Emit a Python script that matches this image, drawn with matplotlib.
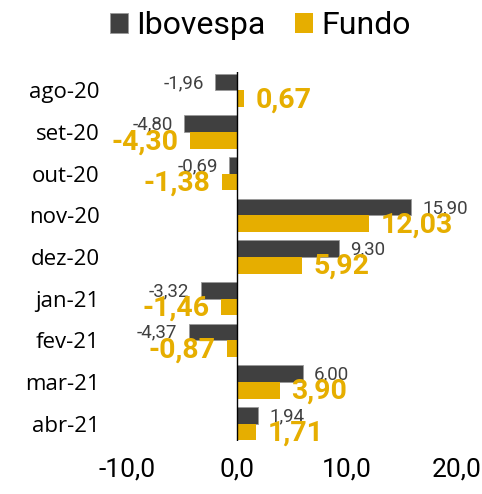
import numpy as np
import matplotlib.pyplot as plt

plt.rcParams['font.family'] = ['Roboto', 'DejaVu Sans']

meses = ['ago-20', 'set-20', 'out-20', 'nov-20', 'dez-20', 'jan-21', 'fev-21', 'mar-21', 'abr-21']
ibovespa = [-1.96, -4.80, -0.69, 15.90, 9.30, -3.32, -4.37, 6.00, 1.94]
fundo = [0.67, -4.30, -1.38, 12.03, 5.92, -1.46, -0.87, 3.90, 1.71]

cor_ibov = '#404040'
cor_fundo = '#E6AE00'

fig = plt.figure(figsize=(4.82, 4.94), dpi=100)
ax = fig.add_axes([0.230, 0.107, 0.762, 0.747])

y = np.arange(len(meses))
h = 0.4
ax.barh(y - h / 2, ibovespa, height=h, color=cor_ibov, edgecolor='#9a9a9a', linewidth=0.6, label='Ibovespa')
ax.barh(y + h / 2, fundo, height=h, color=cor_fundo, label='Fundo')

def fmt(v):
    return f'{v:.2f}'.replace('.', ',')

off = 1.05
for i, (a, b) in enumerate(zip(ibovespa, fundo)):
    ha = 'left' if a >= 0 else 'right'
    ax.text(a + off * np.sign(a), i - h / 2 + 0.02, fmt(a), ha=ha, va='center',
            fontsize=13.5, color=cor_ibov)
    ha = 'left' if b >= 0 else 'right'
    ax.text(b + off * np.sign(b), i + h / 2 + 0.03, fmt(b), ha=ha, va='center',
            fontsize=20.5, fontweight='bold', color=cor_fundo)

ax.axvline(0, color='black', linewidth=1)
ax.set_xlim(-11.5, 22)
ax.set_ylim(8.42, -0.44)
ax.set_xticks([-10, 0, 10, 20])
ax.set_xticklabels(['-10,0', '0,0', '10,0', '20,0'], fontsize=19)
ax.set_yticks(y)
ax.set_yticklabels(meses, fontsize=16, family=['Open Sans', 'DejaVu Sans'])
ax.tick_params(length=0)
ax.tick_params(axis='x', pad=12)
ax.tick_params(axis='y', pad=8)
for s in ax.spines.values():
    s.set_visible(False)

fig.legend(loc='upper center', bbox_to_anchor=(0.54, 1.035), ncol=2, frameon=False,
           fontsize=23, handlelength=0.56, handleheight=0.56, handletextpad=0.25,
           columnspacing=0.94)

fig.savefig('out.png', dpi=100)
